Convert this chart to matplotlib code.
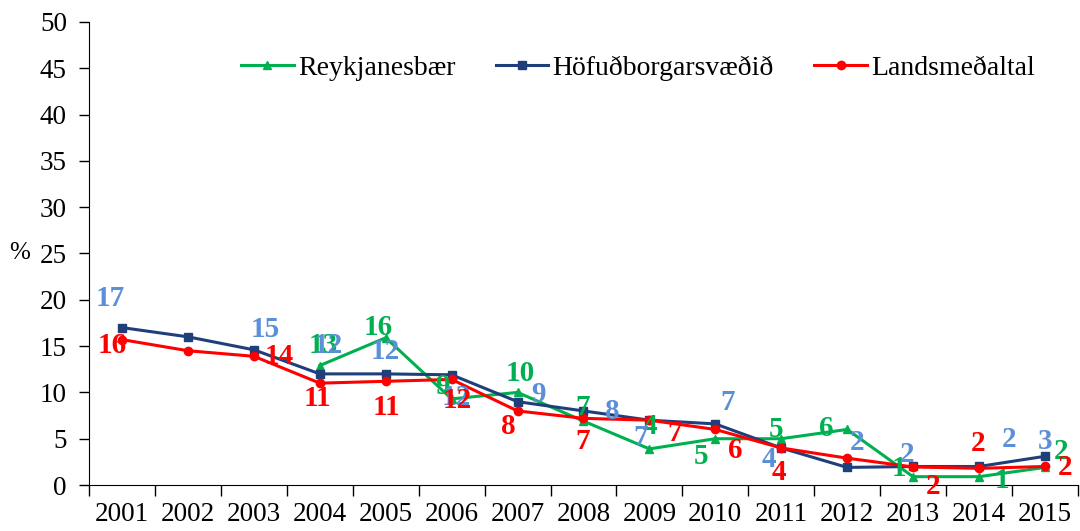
import numpy as np
import matplotlib.pyplot as plt

years = [str(y) for y in range(2001, 2016)]
nan = np.nan

# values
reykjanesbaer = [nan, nan, nan, 12.9, 15.9, 9.3, 10.0, 6.9, 3.9, 5.0, 5.0, 6.0, 0.9, 0.9, 1.9]
hofudborg = [17.0, 16.0, 14.6, 12.0, 12.0, 11.9, 9.0, 8.0, 7.0, 6.6, 4.0, 1.9, 2.0, 2.0, 3.1]
landsmedaltal = [15.7, 14.5, 13.9, 11.0, 11.2, 11.4, 8.0, 7.2, 7.0, 6.0, 4.0, 2.9, 1.95, 1.8, 2.0]

# data labels as printed (None = no label)
lab_green = [None, None, None, '13', '16', '9', '10', '7', '4', '5', '5', '6', '1', '1', '2']
lab_blue = ['17', None, '15', '12', '12', '12', '9', '8', '7', '7', '4', '2', '2', '2', '3']
lab_red = ['16', None, '14', '11', '11', '12', '8', '7', '7', '6', '4', None, '2', '2', '2']

# label offsets in pixels (dx, dy)
off_green = [None, None, None, (3, 20), (-8, 10), (-9, 12), (3, 19), (-1, 14), (0, 22),
             (-14, -18), (-5, 9), (-21, 1), (-14, 8), (23, -4), (16, 16)]
off_blue = [(-12, 29), None, (11, 20), (8, 28), (0, 22), (5, -23), (21, 7), (29, -1),
            (-9, -17), (12, 21), (-12, -12), (10, 25), (-6, 12), (30, 27), (0, 15)]
off_red = [(-10, -6), None, (25, 0), (-2, -15), (1, -26), (6, -21), (-9, -16), (-1, -23),
           (25, -13), (20, -21), (-2, -25), None, (20, -20), (-1, 25), (20, -1)]

plt.rcParams['font.family'] = ['Liberation Serif', 'DejaVu Serif']

fig = plt.figure(figsize=(10.8, 5.31), dpi=100)
ax = fig.add_axes([0.0825, 0.0866, 0.9155, 0.872])

x = np.arange(len(years))
series = [
    ('Reykjanesbær', reykjanesbaer, '#00B050', '^', 5.5, '#00B050', lab_green, off_green),
    ('Höfuðborgarsvæðið', hofudborg, '#1F3F7A', 's', 6, '#5B8FD8', lab_blue, off_blue),
    ('Landsmeðaltal', landsmedaltal, '#FF0000', 'o', 6, '#FF0000', lab_red, off_red),
]
for name, vals, col, mk, ms, lcol, labs, offs in series:
    ax.plot(x, vals, color=col, marker=mk, markersize=ms, linewidth=2.2, label=name)

for name, vals, col, mk, ms, lcol, labs, offs in series:
    for xi, v, t, o in zip(x, vals, labs, offs):
        if t is None:
            continue
        ax.annotate(t, (xi, v), xytext=o, textcoords='offset pixels',
                    ha='center', va='center', color=lcol, fontsize=21,
                    fontweight='bold')

ax.set_xlim(-0.5, len(years) - 0.5)
ax.set_ylim(0, 50)
ax.set_yticks(range(0, 51, 5))
ax.set_xticks(x)
ax.set_xticklabels(years)
ax.set_xticks(np.arange(-0.5, len(years), 1), minor=True)
ax.tick_params(axis='x', which='major', length=0, pad=12, labelsize=19.5)
ax.tick_params(axis='x', which='minor', length=8, width=1, direction='out')
ax.tick_params(axis='y', length=7, width=1, pad=9, labelsize=19.5)
for s in ['top', 'right']:
    ax.spines[s].set_visible(False)
ax.set_ylabel('%', rotation=0, fontsize=18, va='center')
ax.yaxis.set_label_coords(-0.07, 0.5)

ax.legend(loc='center', bbox_to_anchor=(0.555, 0.9), ncol=3, frameon=False,
          fontsize=20, handlelength=1.9, columnspacing=1.45, handletextpad=0.15)

fig.savefig('out.png', dpi=100)
